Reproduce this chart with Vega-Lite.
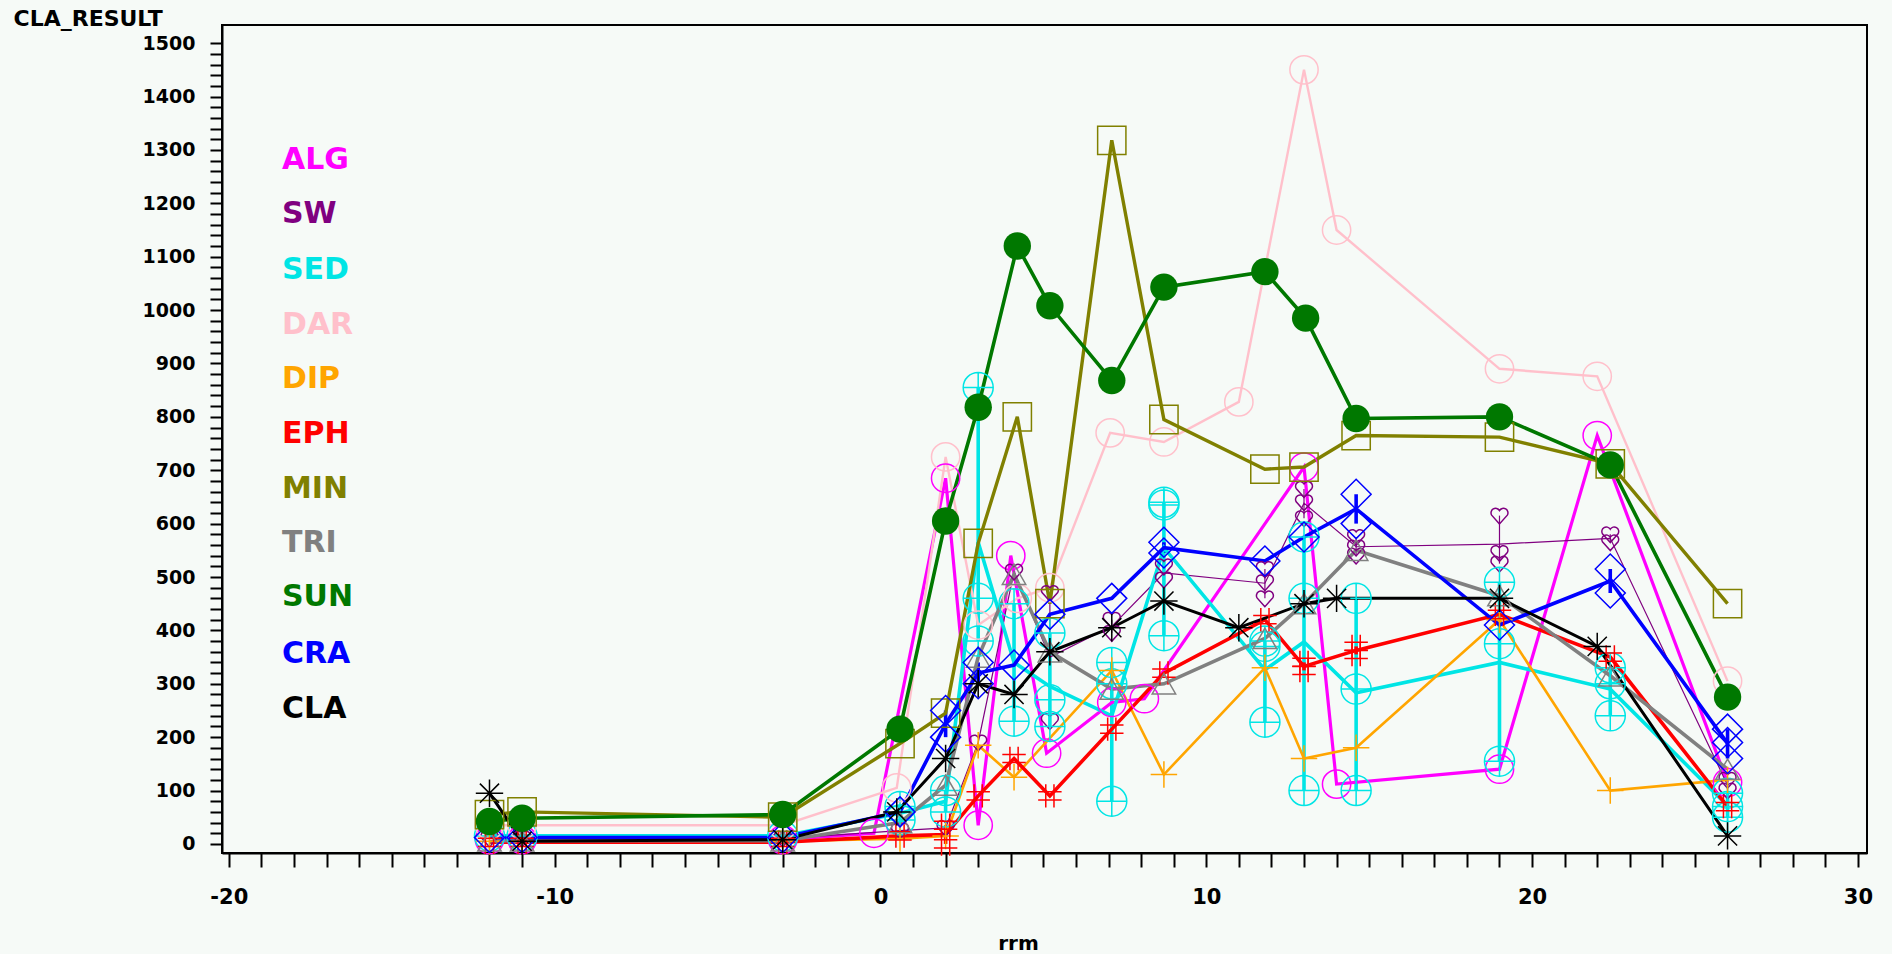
{
  "$schema": "https://vega.github.io/schema/vega-lite/v6.json",
  "width": 1645,
  "height": 828,
  "autosize": {"type": "none"},
  "padding": {"left": 222, "top": 25, "right": 25, "bottom": 101},
  "background": "#f6faf7",
  "config": {
    "view": {"stroke": "#000000", "strokeWidth": 2},
    "font": "DejaVu Sans",
    "axis": {"labelFlush": false, "grid": false, "labelOverlap": false}
  },
  "data": {
    "values": [
      {"group":"ALG","rrm":-12,"cla":8},{"group":"ALG","rrm":-11,"cla":8},{"group":"ALG","rrm":-3,"cla":8},{"group":"ALG","rrm":-0.2,"cla":20},{"group":"ALG","rrm":2,"cla":685},{"group":"ALG","rrm":3,"cla":35},{"group":"ALG","rrm":4,"cla":540},{"group":"ALG","rrm":5.1,"cla":170},{"group":"ALG","rrm":7.1,"cla":265},{"group":"ALG","rrm":8.1,"cla":272},{"group":"ALG","rrm":13,"cla":706},{"group":"ALG","rrm":14,"cla":112},{"group":"ALG","rrm":19,"cla":140},{"group":"ALG","rrm":22,"cla":765},{"group":"ALG","rrm":26,"cla":115},

      {"group":"SW","rrm":-12,"cla":10},{"group":"SW","rrm":-11,"cla":10},{"group":"SW","rrm":-3,"cla":10},{"group":"SW","rrm":0.6,"cla":25},{"group":"SW","rrm":2,"cla":30},{"group":"SW","rrm":3,"cla":190},{"group":"SW","rrm":4.1,"cla":510},{"group":"SW","rrm":5.2,"cla":470},{"group":"SW","rrm":5.2,"cla":230},{"group":"SW","rrm":7.1,"cla":420},{"group":"SW","rrm":7.1,"cla":395},{"group":"SW","rrm":8.7,"cla":520},{"group":"SW","rrm":8.7,"cla":495},{"group":"SW","rrm":11.8,"cla":515},{"group":"SW","rrm":11.8,"cla":490},{"group":"SW","rrm":11.8,"cla":460},{"group":"SW","rrm":13,"cla":665},{"group":"SW","rrm":13,"cla":640},{"group":"SW","rrm":13,"cla":610},{"group":"SW","rrm":14.6,"cla":575},{"group":"SW","rrm":14.6,"cla":555},{"group":"SW","rrm":14.6,"cla":540},{"group":"SW","rrm":19,"cla":615},{"group":"SW","rrm":19,"cla":545},{"group":"SW","rrm":19,"cla":525},{"group":"SW","rrm":22.4,"cla":580},{"group":"SW","rrm":22.4,"cla":565},{"group":"SW","rrm":26,"cla":120},{"group":"SW","rrm":26,"cla":100},

      {"group":"SED","rrm":-12,"cla":15},{"group":"SED","rrm":-11,"cla":15},{"group":"SED","rrm":-3,"cla":15},{"group":"SED","rrm":0.6,"cla":70},{"group":"SED","rrm":0.6,"cla":45},{"group":"SED","rrm":2,"cla":100},{"group":"SED","rrm":2,"cla":60},{"group":"SED","rrm":3,"cla":855},{"group":"SED","rrm":3,"cla":460},{"group":"SED","rrm":3,"cla":380},{"group":"SED","rrm":4.1,"cla":450},{"group":"SED","rrm":4.1,"cla":230},{"group":"SED","rrm":5.2,"cla":395},{"group":"SED","rrm":5.2,"cla":270},{"group":"SED","rrm":5.2,"cla":220},{"group":"SED","rrm":7.1,"cla":340},{"group":"SED","rrm":7.1,"cla":300},{"group":"SED","rrm":7.1,"cla":80},{"group":"SED","rrm":8.7,"cla":640},{"group":"SED","rrm":8.7,"cla":635},{"group":"SED","rrm":8.7,"cla":390},{"group":"SED","rrm":11.8,"cla":370},{"group":"SED","rrm":11.8,"cla":380},{"group":"SED","rrm":11.8,"cla":228},{"group":"SED","rrm":13,"cla":575},{"group":"SED","rrm":13,"cla":460},{"group":"SED","rrm":13,"cla":100},{"group":"SED","rrm":14.6,"cla":460},{"group":"SED","rrm":14.6,"cla":290},{"group":"SED","rrm":14.6,"cla":100},{"group":"SED","rrm":19,"cla":490},{"group":"SED","rrm":19,"cla":375},{"group":"SED","rrm":19,"cla":155},{"group":"SED","rrm":22.4,"cla":330},{"group":"SED","rrm":22.4,"cla":300},{"group":"SED","rrm":22.4,"cla":240},{"group":"SED","rrm":26,"cla":95},{"group":"SED","rrm":26,"cla":70},{"group":"SED","rrm":26,"cla":50},

      {"group":"DAR","rrm":-12,"cla":35},{"group":"DAR","rrm":-11,"cla":35},{"group":"DAR","rrm":-3,"cla":35},{"group":"DAR","rrm":0.5,"cla":105},{"group":"DAR","rrm":2,"cla":725},{"group":"DAR","rrm":3,"cla":410},{"group":"DAR","rrm":4.2,"cla":460},{"group":"DAR","rrm":5.2,"cla":480},{"group":"DAR","rrm":7.05,"cla":770},{"group":"DAR","rrm":8.7,"cla":753},{"group":"DAR","rrm":11,"cla":828},{"group":"DAR","rrm":13,"cla":1450},{"group":"DAR","rrm":14,"cla":1150},{"group":"DAR","rrm":19,"cla":890},{"group":"DAR","rrm":22,"cla":876},{"group":"DAR","rrm":26,"cla":305},

      {"group":"DIP","rrm":-12,"cla":5},{"group":"DIP","rrm":-11,"cla":5},{"group":"DIP","rrm":-3,"cla":5},{"group":"DIP","rrm":0.6,"cla":10},{"group":"DIP","rrm":2,"cla":15},{"group":"DIP","rrm":3,"cla":185},{"group":"DIP","rrm":4.1,"cla":125},{"group":"DIP","rrm":7.1,"cla":325},{"group":"DIP","rrm":8.7,"cla":130},{"group":"DIP","rrm":11.8,"cla":330},{"group":"DIP","rrm":13,"cla":160},{"group":"DIP","rrm":14.6,"cla":180},{"group":"DIP","rrm":19,"cla":420},{"group":"DIP","rrm":22.4,"cla":100},{"group":"DIP","rrm":26,"cla":120},

      {"group":"EPH","rrm":-12,"cla":3},{"group":"EPH","rrm":-11,"cla":3},{"group":"EPH","rrm":-3,"cla":3},{"group":"EPH","rrm":0.6,"cla":15},{"group":"EPH","rrm":2,"cla":35},{"group":"EPH","rrm":2,"cla":0},{"group":"EPH","rrm":3,"cla":90},{"group":"EPH","rrm":4.1,"cla":160},{"group":"EPH","rrm":5.2,"cla":90},{"group":"EPH","rrm":7.1,"cla":215},{"group":"EPH","rrm":8.7,"cla":320},{"group":"EPH","rrm":11.8,"cla":420},{"group":"EPH","rrm":13,"cla":340},{"group":"EPH","rrm":13,"cla":325},{"group":"EPH","rrm":14.6,"cla":370},{"group":"EPH","rrm":14.6,"cla":355},{"group":"EPH","rrm":19,"cla":430},{"group":"EPH","rrm":22.4,"cla":350},{"group":"EPH","rrm":26,"cla":70},

      {"group":"MIN","rrm":-12,"cla":55},{"group":"MIN","rrm":-11,"cla":60},{"group":"MIN","rrm":-3,"cla":50},{"group":"MIN","rrm":0.6,"cla":188},{"group":"MIN","rrm":2,"cla":245},{"group":"MIN","rrm":3,"cla":563},{"group":"MIN","rrm":4.2,"cla":800},{"group":"MIN","rrm":5.2,"cla":450},{"group":"MIN","rrm":7.1,"cla":1318},{"group":"MIN","rrm":8.7,"cla":795},{"group":"MIN","rrm":11.8,"cla":702},{"group":"MIN","rrm":13,"cla":706},{"group":"MIN","rrm":14.6,"cla":765},{"group":"MIN","rrm":19,"cla":762},{"group":"MIN","rrm":22.4,"cla":712},{"group":"MIN","rrm":26,"cla":450},

      {"group":"TRI","rrm":-12,"cla":6},{"group":"TRI","rrm":-11,"cla":6},{"group":"TRI","rrm":-3,"cla":6},{"group":"TRI","rrm":0.6,"cla":40},{"group":"TRI","rrm":2,"cla":110},{"group":"TRI","rrm":3,"cla":350},{"group":"TRI","rrm":4.1,"cla":505},{"group":"TRI","rrm":5.2,"cla":360},{"group":"TRI","rrm":7.1,"cla":290},{"group":"TRI","rrm":8.7,"cla":300},{"group":"TRI","rrm":11.8,"cla":385},{"group":"TRI","rrm":13,"cla":450},{"group":"TRI","rrm":14.6,"cla":550},{"group":"TRI","rrm":19,"cla":465},{"group":"TRI","rrm":22.4,"cla":315},{"group":"TRI","rrm":26,"cla":140},

      {"group":"SUN","rrm":-12,"cla":42},{"group":"SUN","rrm":-11,"cla":48},{"group":"SUN","rrm":-3,"cla":55},{"group":"SUN","rrm":0.6,"cla":215},{"group":"SUN","rrm":2,"cla":605},{"group":"SUN","rrm":3,"cla":818},{"group":"SUN","rrm":4.2,"cla":1120},{"group":"SUN","rrm":5.2,"cla":1008},{"group":"SUN","rrm":7.1,"cla":868},{"group":"SUN","rrm":8.7,"cla":1043},{"group":"SUN","rrm":11.8,"cla":1072},{"group":"SUN","rrm":13.05,"cla":985},{"group":"SUN","rrm":14.6,"cla":797},{"group":"SUN","rrm":19,"cla":800},{"group":"SUN","rrm":22.4,"cla":710},{"group":"SUN","rrm":26,"cla":275},

      {"group":"CRA","rrm":-12,"cla":12},{"group":"CRA","rrm":-11,"cla":12},{"group":"CRA","rrm":-3,"cla":12},{"group":"CRA","rrm":0.6,"cla":60},{"group":"CRA","rrm":2,"cla":250},{"group":"CRA","rrm":2,"cla":200},{"group":"CRA","rrm":3,"cla":340},{"group":"CRA","rrm":3,"cla":300},{"group":"CRA","rrm":4.1,"cla":335},{"group":"CRA","rrm":5.2,"cla":430},{"group":"CRA","rrm":7.1,"cla":460},{"group":"CRA","rrm":8.7,"cla":565},{"group":"CRA","rrm":8.7,"cla":545},{"group":"CRA","rrm":11.8,"cla":530},{"group":"CRA","rrm":13,"cla":575},{"group":"CRA","rrm":14.6,"cla":655},{"group":"CRA","rrm":14.6,"cla":600},{"group":"CRA","rrm":19,"cla":410},{"group":"CRA","rrm":22.4,"cla":515},{"group":"CRA","rrm":22.4,"cla":470},{"group":"CRA","rrm":26,"cla":215},{"group":"CRA","rrm":26,"cla":190},{"group":"CRA","rrm":26,"cla":160},

      {"group":"CLA","rrm":-12,"cla":95},{"group":"CLA","rrm":-11,"cla":5},{"group":"CLA","rrm":-3,"cla":8},{"group":"CLA","rrm":0.5,"cla":60},{"group":"CLA","rrm":2,"cla":160},{"group":"CLA","rrm":3,"cla":300},{"group":"CLA","rrm":4.1,"cla":280},{"group":"CLA","rrm":5.2,"cla":360},{"group":"CLA","rrm":7.1,"cla":405},{"group":"CLA","rrm":8.7,"cla":455},{"group":"CLA","rrm":11,"cla":405},{"group":"CLA","rrm":13,"cla":450},{"group":"CLA","rrm":14,"cla":460},{"group":"CLA","rrm":19,"cla":460},{"group":"CLA","rrm":22,"cla":370},{"group":"CLA","rrm":26,"cla":15}
    ]
  },
  "encoding": {
    "x": {
      "field": "rrm",
      "type": "quantitative",
      "scale": {"domain": [-20.21, 30.28], "nice": false, "zero": false},
      "axis": {
        "values": [-20,-19,-18,-17,-16,-15,-14,-13,-12,-11,-10,-9,-8,-7,-6,-5,-4,-3,-2,-1,0,1,2,3,4,5,6,7,8,9,10,11,12,13,14,15,16,17,18,19,20,21,22,23,24,25,26,27,28,29,30],
        "tickCount": 120,
        "labelExpr": "datum.value % 10 === 0 ? '' + datum.value : ''",
        "labelOverlap": false,
        "labelFlush": false,
        "grid": false,
        "domainColor": "#000000",
        "domainWidth": 2,
        "tickColor": "#000000",
        "tickWidth": 2,
        "tickSize": 14,
        "labelFont": "DejaVu Sans",
        "labelFontSize": 21,
        "labelFontWeight": "bold",
        "labelColor": "#000000",
        "labelPadding": 19,
        "title": "rrm",
        "titleFont": "DejaVu Sans",
        "titleFontSize": 20,
        "titleFontWeight": "bold",
        "titleColor": "#000000",
        "titleX": 796,
        "titleY": 96,
        "titleAlign": "center",
        "titleBaseline": "alphabetic",
        "encode": {
          "ticks": {"update": {"y2": {"signal": "datum.value % 10 === 0 ? 14 : 8"}}}
        }
      }
    }
  },
  "layer": [
    {
      "mark": {"type": "rule"},
      "encoding": {
        "y": {
          "aggregate": "min",
          "field": "cla",
          "type": "quantitative",
          "title": "CLA_RESULT",
          "scale": {"domain": [-17, 1534], "nice": false, "zero": false},
          "axis": {
            "values": [0,20,40,60,80,100,120,140,160,180,200,220,240,260,280,300,320,340,360,380,400,420,440,460,480,500,520,540,560,580,600,620,640,660,680,700,720,740,760,780,800,820,840,860,880,900,920,940,960,980,1000,1020,1040,1060,1080,1100,1120,1140,1160,1180,1200,1220,1240,1260,1280,1300,1320,1340,1360,1380,1400,1420,1440,1460,1480,1500],
            "tickCount": 200,
            "labelExpr": "datum.value % 100 === 0 ? '' + datum.value : ''",
            "labelOverlap": false,
            "labelFlush": false,
            "grid": false,
            "domainColor": "#000000",
            "domainWidth": 2,
            "tickColor": "#000000",
            "tickWidth": 2,
            "tickSize": 12,
            "labelFont": "DejaVu Sans",
            "labelFontSize": 19,
            "labelFontWeight": "bold",
            "labelColor": "#000000",
            "labelPadding": 15,
            "title": "CLA_RESULT",
            "titleFont": "DejaVu Sans",
            "titleFontSize": 22,
            "titleFontWeight": "bold",
            "titleColor": "#000000",
            "titleAngle": 0,
            "titleX": -209,
            "titleY": 0,
            "titleAlign": "left",
            "titleBaseline": "alphabetic",
            "encode": {
              "ticks": {"update": {"x2": {"signal": "datum.value % 100 === 0 ? -12 : -8"}}}
            }
          }
        },
        "y2": {"aggregate": "max", "field": "cla"},
        "color": {
          "field": "group",
          "type": "nominal",
          "scale": {
            "domain": ["ALG","SW","SED","DAR","DIP","EPH","MIN","TRI","SUN","CRA","CLA"],
            "range": ["#ff00ff","#800080","#00e5e5","#ffc0cb","#ffa500","#ff0000","#808000","#808080","#007800","#0000ff","#000000"]
          },
          "legend": {
            "orient": "none",
            "legendX": 26,
            "legendY": 119,
            "title": null,
            "direction": "vertical",
            "padding": 0,
            "symbolSize": 0,
            "symbolOpacity": 0,
            "symbolStrokeWidth": 0,
            "labelOffset": 0,
            "labelFont": "DejaVu Sans",
            "labelFontSize": 30,
            "labelFontWeight": "bold",
            "labelLimit": 0,
            "rowPadding": 24.1,
            "encode": {"labels": {"update": {"fill": {"scale": "color", "field": "value"}}}}
          }
        },
        "strokeWidth": {
          "field": "group",
          "type": "nominal",
          "scale": {
            "type": "ordinal",
            "domain": ["ALG","SW","SED","DAR","DIP","EPH","MIN","TRI","SUN","CRA","CLA"],
            "range": [3.2, 1.2, 3.6, 2.4, 2.6, 3.6, 3.4, 3.6, 3.6, 3.6, 3]
          },
          "legend": null
        }
      }
    },
    {
      "mark": {"type": "line", "strokeJoin": "miter"},
      "encoding": {
        "y": {"aggregate": "mean", "field": "cla", "type": "quantitative", "title": "CLA_RESULT"},
        "color": {"field": "group", "type": "nominal"},
        "strokeWidth": {
          "field": "group",
          "type": "nominal",
          "scale": {
            "type": "ordinal",
            "domain": ["ALG","SW","SED","DAR","DIP","EPH","MIN","TRI","SUN","CRA","CLA"],
            "range": [3.2, 1.2, 3.6, 2.4, 2.6, 3.6, 3.4, 3.6, 3.6, 3.6, 3]
          },
          "legend": null
        }
      }
    },
    {
      "transform": [{"filter": {"not": {"field": "group", "equal": "SUN"}}}],
      "mark": {"type": "point", "filled": false, "strokeWidth": 1.5, "opacity": 1},
      "encoding": {
        "y": {"field": "cla", "type": "quantitative", "title": "CLA_RESULT"},
        "color": {"field": "group", "type": "nominal"},
        "shape": {
          "field": "group",
          "type": "nominal",
          "scale": {
            "domain": ["ALG","SW","SED","DAR","DIP","EPH","MIN","TRI","SUN","CRA","CLA"],
            "range": [
              "circle",
              "M0,0.9L-0.85,-0.05A0.45,0.45,0,0,1,0,-0.55A0.45,0.45,0,0,1,0.85,-0.05Z",
              "M-1,0A1,1,0,1,1,1,0A1,1,0,1,1,-1,0ZM-1,0L1,0M0,-1L0,1",
              "circle",
              "M-1,0L1,0M0,-1L0,1",
              "M-1,-0.35L1,-0.35M-1,0.35L1,0.35M-0.35,-1L-0.35,1M0.35,-1L0.35,1",
              "square",
              "triangle-up",
              "circle",
              "diamond",
              "M-1,0L1,0M0,-1L0,1M-0.7,-0.7L0.7,0.7M-0.7,0.7L0.7,-0.7"
            ]
          },
          "legend": null
        },
        "size": {
          "field": "group",
          "type": "nominal",
          "scale": {
            "type": "ordinal",
            "domain": ["ALG","SW","SED","DAR","DIP","EPH","MIN","TRI","SUN","CRA","CLA"],
            "range": [800, 340, 900, 800, 700, 550, 800, 550, 750, 900, 750]
          },
          "legend": null
        }
      }
    },
    {
      "transform": [{"filter": {"field": "group", "equal": "SUN"}}],
      "mark": {"type": "point", "filled": true, "shape": "circle", "size": 750, "opacity": 1},
      "encoding": {
        "y": {"field": "cla", "type": "quantitative", "title": "CLA_RESULT"},
        "color": {"field": "group", "type": "nominal"}
      }
    }
  ]
}
